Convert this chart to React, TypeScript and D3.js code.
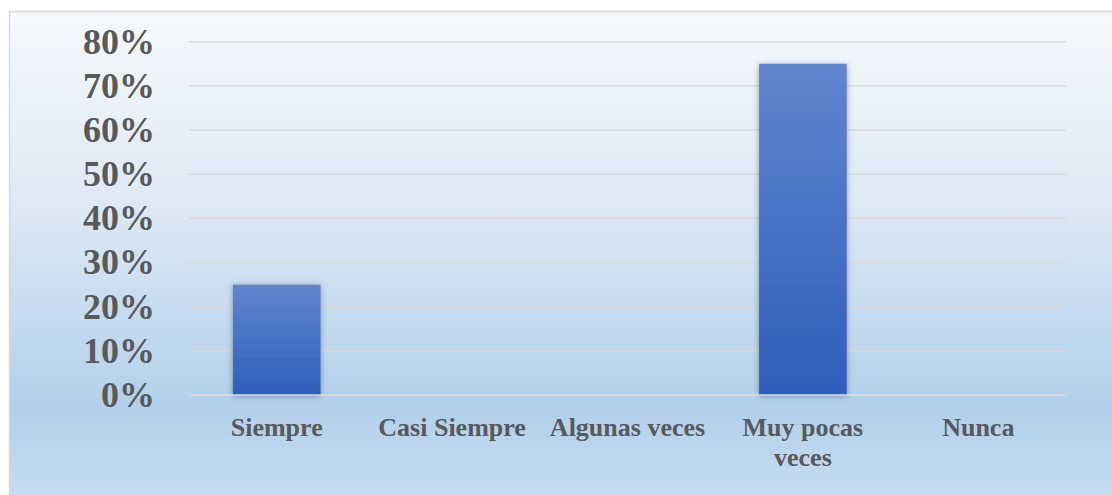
import { useEffect, useRef } from 'react';
import * as d3 from 'd3';

const categories = ['Siempre', 'Casi Siempre', 'Algunas veces', 'Muy pocas veces', 'Nunca'];
const values = [0.25, 0, 0, 0.75, 0];
const yTicks = [0, 0.1, 0.2, 0.3, 0.4, 0.5, 0.6, 0.7, 0.8];

const W = 1112;
const H = 495;
const FONT = '"Liberation Serif", "Times New Roman", serif';

export default function App() {
  const svgRef = useRef<SVGSVGElement>(null);

  useEffect(() => {
    if (!svgRef.current) return;
    const svg = d3.select(svgRef.current);
    svg.selectAll('*').remove();

    const plot = { left: 189, right: 1066, top: 41.7, bottom: 395 };

    const defs = svg.append('defs');
    const bg = defs.append('linearGradient')
      .attr('id', 'bg-grad')
      .attr('x1', '0%').attr('x2', '0%')
      .attr('y1', '0%').attr('y2', '100%');
    bg.append('stop').attr('offset', '0%').attr('stop-color', '#f6f9fd');
    bg.append('stop').attr('offset', '40%').attr('stop-color', '#dce8f5');
    bg.append('stop').attr('offset', '80%').attr('stop-color', '#b2d0eb');
    bg.append('stop').attr('offset', '100%').attr('stop-color', '#c8ddf1');

    const barGrad = defs.append('linearGradient')
      .attr('id', 'bar-grad')
      .attr('x1', '0%').attr('x2', '0%')
      .attr('y1', '0%').attr('y2', '100%');
    barGrad.append('stop').attr('offset', '0%').attr('stop-color', '#6285cd');
    barGrad.append('stop').attr('offset', '100%').attr('stop-color', '#2d5fbb');

    const shadow = defs.append('filter')
      .attr('id', 'bar-shadow')
      .attr('x', '-20%').attr('y', '-10%')
      .attr('width', '140%').attr('height', '120%');
    shadow.append('feDropShadow')
      .attr('dx', 0).attr('dy', 1)
      .attr('stdDeviation', 3)
      .attr('flood-color', '#000')
      .attr('flood-opacity', 0.35);

    // chart area
    svg.append('rect')
      .attr('x', 9.5).attr('y', 11.5)
      .attr('width', W).attr('height', H)
      .attr('fill', 'url(#bg-grad)')
      .attr('stroke', '#d9d9d9')
      .attr('stroke-width', 1.5);

    const x = d3.scaleBand<string>()
      .domain(categories)
      .range([plot.left, plot.right])
      .paddingInner(0.5)
      .paddingOuter(0.25);

    const y = d3.scaleLinear()
      .domain([0, 0.8])
      .range([plot.bottom, plot.top]);

    // gridlines
    svg.append('g')
      .selectAll('line')
      .data(yTicks)
      .join('line')
      .attr('x1', plot.left)
      .attr('x2', plot.right)
      .attr('y1', d => y(d))
      .attr('y2', d => y(d))
      .attr('stroke', '#d9d9d9')
      .attr('stroke-width', 1.5);

    // y tick labels
    svg.append('g')
      .selectAll('text')
      .data(yTicks)
      .join('text')
      .attr('x', 155)
      .attr('y', d => y(d))
      .attr('dy', '0.33em')
      .attr('text-anchor', 'end')
      .attr('fill', '#595959')
      .attr('font-family', FONT)
      .attr('font-weight', 'bold')
      .attr('font-size', '36px')
      .text(d => d3.format('.0%')(d));

    // bars
    svg.append('g')
      .selectAll('rect')
      .data(categories.map((c, i) => ({ c, v: values[i] })).filter(d => d.v > 0))
      .join('rect')
      .attr('x', d => x(d.c)!)
      .attr('y', d => y(d.v))
      .attr('width', x.bandwidth())
      .attr('height', d => y(0) - y(d.v))
      .attr('fill', 'url(#bar-grad)')
      .attr('filter', 'url(#bar-shadow)');

    // axis line
    svg.append('line')
      .attr('x1', plot.left)
      .attr('x2', plot.right)
      .attr('y1', y(0))
      .attr('y2', y(0))
      .attr('stroke', '#d9d9d9')
      .attr('stroke-width', 1.5);

    // category labels with wrapping
    const maxW = x.step();
    const labels = svg.append('g');
    categories.forEach(c => {
      const t = labels.append('text')
        .attr('x', x(c)! + x.bandwidth() / 2)
        .attr('y', y(0) + 41)
        .attr('text-anchor', 'middle')
        .attr('fill', '#595959')
        .attr('font-family', FONT)
        .attr('font-weight', 'bold')
        .attr('font-size', '26px');
      const words = c.split(' ');
      let line: string[] = [];
      let lineNo = 0;
      let tspan = t.append('tspan').attr('x', x(c)! + x.bandwidth() / 2).attr('dy', 0);
      words.forEach(w => {
        line.push(w);
        tspan.text(line.join(' '));
        if ((tspan.node() as SVGTSpanElement).getComputedTextLength() > maxW && line.length > 1) {
          line.pop();
          tspan.text(line.join(' '));
          line = [w];
          lineNo++;
          tspan = t.append('tspan')
            .attr('x', x(c)! + x.bandwidth() / 2)
            .attr('dy', 30)
            .text(w);
        }
      });
    });
  }, []);

  return (
    <svg
      ref={svgRef}
      width={W}
      height={H}
      style={{ position: 'absolute', left: 0, top: 0, background: '#fff' }}
    />
  );
}
